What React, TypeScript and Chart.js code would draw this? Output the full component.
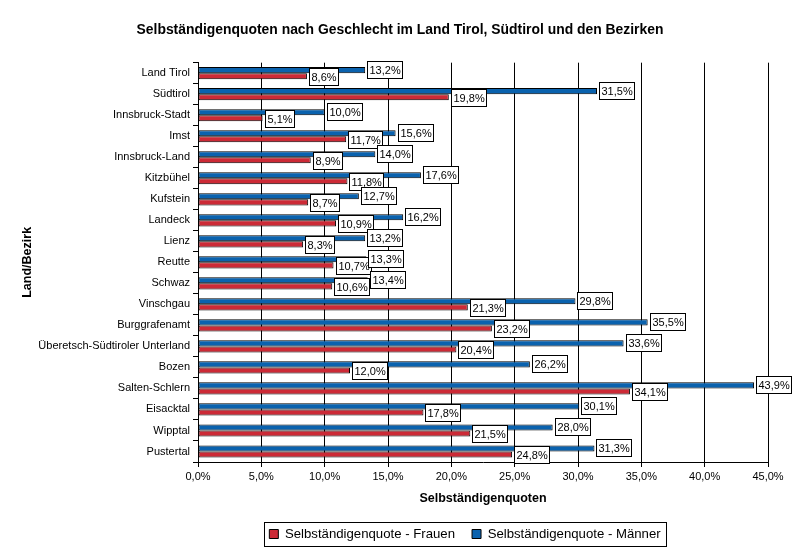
import React, { useEffect, useRef } from 'react';
import { Chart, registerables } from 'chart.js';

Chart.register(...registerables);

const FONT = '"Liberation Sans", Arial, Helvetica, sans-serif';

const categories = [
  'Land Tirol', 'Südtirol', 'Innsbruck-Stadt', 'Imst', 'Innsbruck-Land', 'Kitzbühel',
  'Kufstein', 'Landeck', 'Lienz', 'Reutte', 'Schwaz', 'Vinschgau', 'Burggrafenamt',
  'Überetsch-Südtiroler Unterland', 'Bozen', 'Salten-Schlern', 'Eisacktal', 'Wipptal', 'Pustertal',
];
const frauen = [8.6, 19.8, 5.1, 11.7, 8.9, 11.8, 8.7, 10.9, 8.3, 10.7, 10.6, 21.3, 23.2, 20.4, 12.0, 34.1, 17.8, 21.5, 24.8];
const maenner = [13.2, 31.5, 10.0, 15.6, 14.0, 17.6, 12.7, 16.2, 13.2, 13.3, 13.4, 29.8, 35.5, 33.6, 26.2, 43.9, 30.1, 28.0, 31.3];
const seriesNames = ['Selbständigenquote - Frauen', 'Selbständigenquote - Männer'];
const titleText = 'Selbständigenquoten nach Geschlecht im Land Tirol, Südtirol und den Bezirken';
const xTitle = 'Selbständigenquoten';
const yTitle = 'Land/Bezirk';
const xMin = 0;
const xMax = 45;
const xStep = 5;

const RED = '#cc2a36';
const BLUE = '#0a62ae';

const fmt = (v: number) => v.toFixed(1).replace('.', ',') + '%';

const valueBoxes = {
  id: 'valueBoxes',
  afterDatasetsDraw(chart: any) {
    const ctx = chart.ctx;
    ctx.save();
    ctx.font = `11px ${FONT}`;
    ctx.textBaseline = 'middle';
    ctx.textAlign = 'left';
    ctx.lineWidth = 1;
    // Frauen (dataset 1) first, then Männer (dataset 0)
    const order = [1, 0];
    order.forEach((di) => {
      const meta = chart.getDatasetMeta(di);
      const vals = chart.data.datasets[di].data as number[];
      meta.data.forEach((bar: any, j: number) => {
        const text = fmt(vals[j]);
        const tw = ctx.measureText(text).width;
        const cy = di === 0 ? bar.y - 0.5 : bar.y + 0.5;
        const bx = Math.round(bar.x) + 2;
        const bw = Math.round(tw + 5);
        const bh = 18;
        const by = Math.round(cy - bh / 2);
        ctx.fillStyle = '#ffffff';
        ctx.fillRect(bx, by, bw, bh);
        ctx.strokeStyle = '#000000';
        ctx.strokeRect(bx + 0.5, by + 0.5, bw - 1, bh - 1);
        ctx.fillStyle = '#000000';
        ctx.fillText(text, bx + 2.5, by + bh / 2 + 0.5);
      });
    });
    ctx.restore();
  },
};

const layoutShift = {
  id: 'layoutShift',
  afterLayout(chart: any) {
    const lg = chart.legend;
    if (lg) {
      const shift = 465 - (lg.left + lg.right) / 2;
      lg.left += shift;
      lg.right += shift;
    }
    const tb = chart.titleBlock;
    if (tb) {
      const shift = 400 - (tb.left + tb.right) / 2;
      tb.left += shift;
      tb.right += shift;
    }
  },
  afterDraw(chart: any) {
    const lg = chart.legend;
    if (!lg || !lg.legendHitBoxes || !lg.legendHitBoxes.length) return;
    const hb = lg.legendHitBoxes;
    let minL = Infinity;
    let maxR = -Infinity;
    let top = Infinity;
    let bottom = -Infinity;
    hb.forEach((h: any) => {
      minL = Math.min(minL, h.left);
      maxR = Math.max(maxR, h.left + h.width);
      top = Math.min(top, h.top);
      bottom = Math.max(bottom, h.top + h.height);
    });
    const ctx = chart.ctx;
    ctx.save();
    ctx.strokeStyle = '#000000';
    ctx.lineWidth = 1;
    const x0 = Math.round(minL - 5) + 0.5;
    const x1 = Math.round(maxR + 5) + 0.5;
    const y0 = Math.round(top - 5) + 0.5;
    const y1 = Math.round(bottom + 5) + 0.5;
    ctx.strokeRect(x0, y0, x1 - x0, y1 - y0);
    ctx.restore();
  },
};

export default function App() {
  const ref = useRef<HTMLCanvasElement | null>(null);

  useEffect(() => {
    document.body.style.margin = '0';
    const canvas = ref.current;
    if (!canvas) return;
    const chart = new Chart(canvas, {
      type: 'bar',
      data: {
        labels: categories,
        datasets: [
          {
            label: seriesNames[1],
            data: maenner,
            backgroundColor: BLUE,
            borderColor: '#000000',
            borderWidth: 1,
            borderSkipped: false,
            categoryPercentage: 0.58,
            barPercentage: 1,
          },
          {
            label: seriesNames[0],
            data: frauen,
            backgroundColor: RED,
            borderColor: '#000000',
            borderWidth: 1,
            borderSkipped: false,
            categoryPercentage: 0.58,
            barPercentage: 1,
          },
        ],
      },
      options: {
        indexAxis: 'y',
        animation: false,
        responsive: false,
        maintainAspectRatio: false,
        devicePixelRatio: 1,
        layout: { padding: { left: 0, right: 32, top: 0, bottom: 3.4 } },
        plugins: {
          tooltip: { enabled: false },
          title: {
            display: true,
            text: titleText,
            color: '#000000',
            font: { family: FONT, size: 13.9, weight: 'bold' },
            padding: { top: 21.4, bottom: 24.6 },
          },
          legend: {
            display: true,
            position: 'bottom',
            labels: {
              color: '#000000',
              font: { family: FONT, size: 13.2 },
              boxWidth: 9,
              boxHeight: 9,
              padding: 17,
              sort: (a: any, b: any) => b.datasetIndex - a.datasetIndex,
              generateLabels: (chart: any) =>
                chart.data.datasets.map((ds: any, i: number) => ({
                  text: ds.label,
                  fillStyle: ds.backgroundColor,
                  strokeStyle: '#000000',
                  lineWidth: 1,
                  hidden: false,
                  datasetIndex: i,
                })),
            },
          },
        },
        scales: {
          x: {
            type: 'linear',
            min: xMin,
            max: xMax,
            afterFit: (scale: any) => {
              scale.height = 48.4;
            },
            ticks: {
              stepSize: xStep,
              color: '#000000',
              font: { family: FONT, size: 11 },
              padding: 3,
              maxRotation: 0,
              callback: (v: any) => fmt(Number(v)),
            },
            grid: {
              display: true,
              color: '#000000',
              lineWidth: 1,
              drawOnChartArea: true,
              drawTicks: true,
              tickLength: 5,
              tickColor: '#000000',
            },
            border: { display: true, color: '#000000', width: 1 },
            title: {
              display: true,
              text: xTitle,
              color: '#000000',
              font: { family: FONT, size: 12.5, weight: 'bold' },
              padding: { top: 0, bottom: 3.9 },
            },
          },
          y: {
            type: 'category',
            afterFit: (scale: any) => {
              scale.width = 198;
            },
            ticks: {
              color: '#000000',
              font: { family: FONT, size: 11 },
              padding: 3,
              autoSkip: false,
            },
            grid: {
              display: true,
              offset: true,
              drawOnChartArea: false,
              drawTicks: true,
              tickLength: 5,
              tickColor: '#000000',
              color: '#000000',
            },
            border: { display: true, color: '#000000', width: 1 },
            title: {
              display: true,
              text: yTitle,
              color: '#000000',
              font: { family: FONT, size: 12.5, weight: 'bold' },
              padding: { top: 20.5, bottom: 0 },
            },
          },
        },
      },
      plugins: [layoutShift, valueBoxes],
    });
    return () => chart.destroy();
  }, []);

  return (
    <div style={{ position: 'absolute', left: 0, top: 0, width: 800, height: 554, background: '#ffffff' }}>
      <canvas ref={ref} width={800} height={554} style={{ display: 'block', width: 800, height: 554 }} />
    </div>
  );
}
